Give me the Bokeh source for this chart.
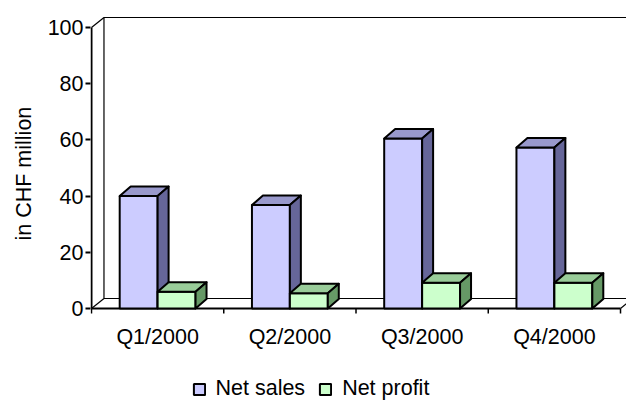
from bokeh.plotting import figure
from bokeh.models import FixedTicker, Legend, LegendItem, Range1d, Title
from bokeh.core.properties import value
from bokeh.embed import file_html
from bokeh.resources import INLINE

categories = ["Q1/2000", "Q2/2000", "Q3/2000", "Q4/2000"]
net_sales = [40.0, 36.8, 60.5, 57.3]
net_profit = [6.0, 5.4, 9.2, 9.2]
y_ticks = [0, 20, 40, 60, 80, 100]
series_names = ["Net sales", "Net profit"]
y_title = "in CHF million"

FONT = "Liberation Sans"
FS = "21.5px"

W, H = 626, 403
FL, FT = 89, 16            # frame left / top (px)
X0_PX, Y0_PX = 90, 308     # pixel position of x=0 and y=0
SX = 132.5                 # px per category
SY = 2.81                  # px per value unit

n = len(categories)
ymax = y_ticks[-1]
x_start = -(X0_PX - FL) / SX
x_end = x_start + (W - FL) / SX
y_end = (Y0_PX - FT) / SY
y_start = -(H - Y0_PX) / SY

wdx, wdy = 12.5 / SX, 10.0 / SY     # wall depth
bdx, bdy = 11.0 / SX, 9.5 / SY      # bar depth
bw = 38.0 / SX                      # bar width

p = figure(width=W, height=H, x_range=Range1d(x_start, x_end),
           y_range=Range1d(y_start, y_end), output_backend="svg",
           toolbar_location=None, x_axis_location=None,
           min_border_left=FL, min_border_right=0,
           min_border_top=FT, min_border_bottom=0)
p.outline_line_color = None
p.grid.visible = False
p.background_fill_color = "white"
p.border_fill_color = "white"

# walls / floor (thin lines)
wall_x0 = [wdx, wdx, wdx, 0, 0, n]
wall_y0 = [wdy, ymax + wdy, wdy, 0, ymax, 0]
wall_x1 = [wdx, x_end + 1, n + wdx, wdx, wdx, n + wdx]
wall_y1 = [ymax + wdy, ymax + wdy, wdy, wdy, ymax + wdy, wdy]
p.segment(wall_x0, wall_y0, wall_x1, wall_y1, line_color="black", line_width=1.2)

# front axis lines (thick)
p.segment([0, 0], [0, 0], [0, n], [ymax, 0], line_color="black", line_width=2)

# category boundary ticks
bounds = list(range(n + 1))
p.segment(bounds, [0] * (n + 1), bounds, [-5.0 / SY] * (n + 1),
          line_color="black", line_width=1.5)

# category labels
centers = [i + 0.5 for i in range(n)]
p.text(x=centers, y=[-28.0 / SY] * n, text=categories, text_align="center",
       text_baseline="alphabetic", text_font=value(FONT), text_font_size=FS,
       text_color="black")

styles = [
    ("#CCCCFF", "#9999CC", "#666699"),
    ("#CCFFCC", "#99CC99", "#669966"),
]

legend_items = []
for s, vals in enumerate([net_sales, net_profit]):
    front, topc, sidec = styles[s]
    lefts, rights, tops = [], [], []
    top_xs, top_ys, side_xs, side_ys = [], [], [], []
    for i, v in enumerate(vals):
        c = i + 0.5
        xa = c - bw + s * bw
        xb = xa + bw
        lefts.append(xa); rights.append(xb); tops.append(v)
        top_xs.append([xa, xb, xb + bdx, xa + bdx])
        top_ys.append([v, v, v + bdy, v + bdy])
        side_xs.append([xb, xb + bdx, xb + bdx, xb])
        side_ys.append([0, bdy, v + bdy, v])
    r = p.quad(left=lefts, right=rights, bottom=[0] * n, top=tops,
               fill_color=front, line_color="black", line_width=2)
    p.patches(top_xs, top_ys, fill_color=topc, line_color="black", line_width=2,
              line_join="round")
    p.patches(side_xs, side_ys, fill_color=sidec, line_color="black", line_width=2,
              line_join="round")
    legend_items.append(LegendItem(label=series_names[s], renderers=[r]))

# y axis
ya = p.yaxis[0]
ya.ticker = FixedTicker(ticks=y_ticks)
ya.axis_line_color = None
ya.major_tick_out = 5
ya.major_tick_in = 0
ya.minor_tick_out = 0
ya.minor_tick_in = 0
ya.major_tick_line_width = 2
ya.major_label_standoff = 2
ya.major_label_text_font = FONT
ya.major_label_text_font_size = FS
ya.major_label_text_color = "black"

# y axis title, anchored from the bottom so it centres on the value axis
p.add_layout(Title(text=y_title, align="left", offset=163, standoff=18,
                   text_font=FONT, text_font_size=FS, text_font_style="normal",
                   text_color="black"), "left")

legend = Legend(items=legend_items, orientation="horizontal", location=(101.5, 2),
                glyph_width=14, glyph_height=14, label_standoff=10, spacing=13,
                padding=0, margin=0, border_line_color=None,
                background_fill_alpha=0, label_text_font=FONT,
                label_text_font_size=FS, label_text_color="black")
p.add_layout(legend, "center")

open("out.html", "w").write(file_html(p, INLINE))
